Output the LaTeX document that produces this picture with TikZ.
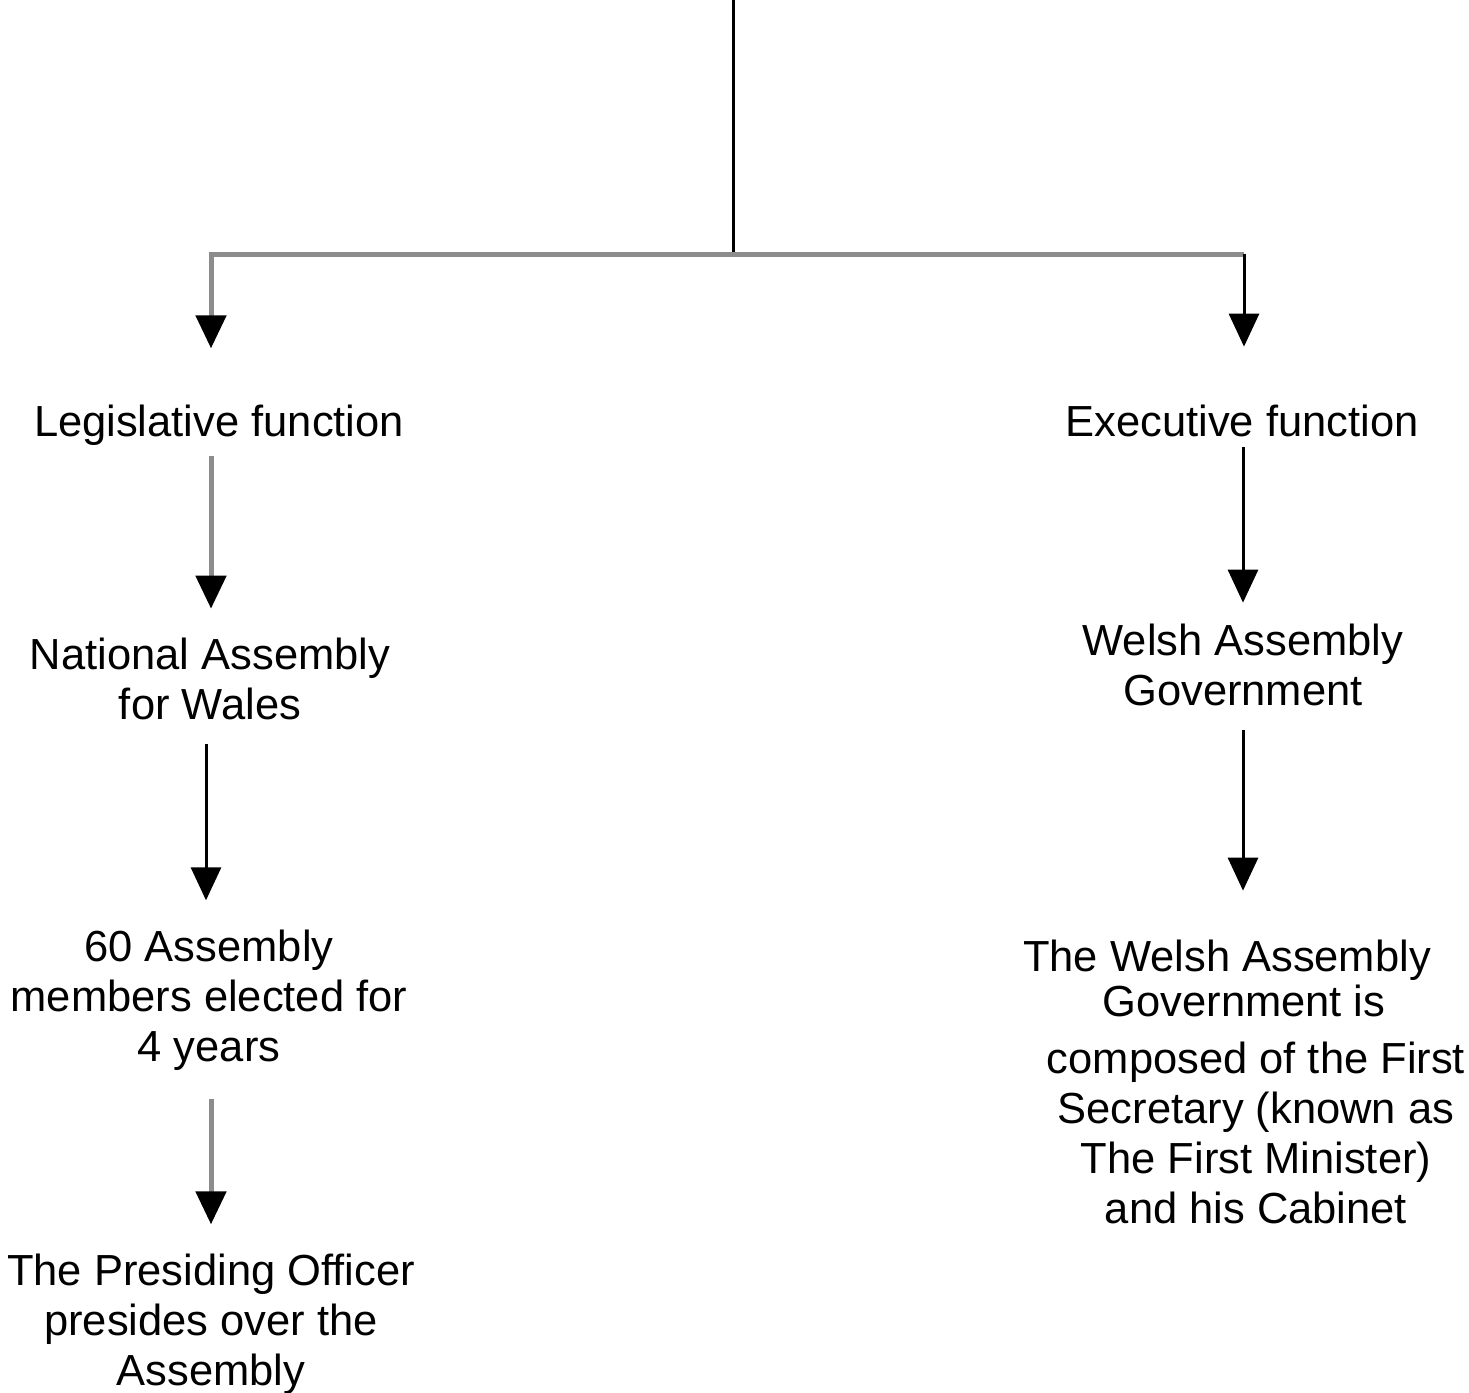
\documentclass[tikz,border=0pt]{standalone}
\usepackage{fontspec}
\setmainfont{Liberation Sans}
\usetikzlibrary{arrows.meta}
\begin{document}
\begin{tikzpicture}[x=0.5pt,y=-0.5pt,
  txt/.style={font=\fontsize{21.75pt}{25pt}\selectfont, align=center, inner sep=0pt},
  blk/.style={draw=black, line width=1.5pt},
  gry/.style={draw=black!45, line width=2.5pt},
  tip/.style={-{Triangle[length=16.5pt,width=15pt,color=black,fill=black]}}
]
\useasboundingbox (0,0) rectangle (1469,1393);
\coordinate (top) at (733,0);
\coordinate (junc) at (733,254);
\coordinate (barR) at (1244,254);
\coordinate (colL) at (211,0);
\coordinate (colM) at (206,0);
\coordinate (colR) at (1243,0);

\node[txt] (leg) at (219,425) {Legislative function};
\node[txt] (exec) at (1242,421) {Executive function};
\node[txt] (nat) at (210,679) {National Assembly\\for Wales};
\node[txt] (sixty) at (209,1000) {60 Assembly\\members elected for\\4 years};
\node[txt] (pres) at (211,1324) {The Presiding Officer\\presides over the\\Assembly};
\node[txt] (wag) at (1243,665) {Welsh Assembly\\Government};
\node[txt] (comp) at (1256,1082) {\hspace*{-29pt}The Welsh Assembly\\[-2.5pt]
  \hspace*{-12pt}Government is\\[3.5pt]
  composed of the First\\
  Secretary (known as\\
  The First Minister)\\
  and his Cabinet};

\draw[blk] (top) -- (junc);
\draw[gry] (junc) -- (barR);
\draw[gry,tip,shorten >=28pt] (junc) -| (leg.north -| colL);
\draw[blk,tip,shorten >=29pt] (barR) -- (exec.north -| barR);
\draw[gry,tip,shorten <=5pt,shorten >=14.5pt] (leg.south -| colL) -- (nat.north -| colL);
\draw[blk,tip,shorten <=12pt,shorten >=14.5pt] (nat.south -| colM) -- (sixty.north -| colM);
\draw[gry,tip,shorten <=14pt,shorten >=14.5pt] (sixty.south -| colL) -- (pres.north -| colL);
\draw[blk,tip,shorten <=5pt,shorten >=10.5pt] (exec.south -| colR) -- (wag.north -| colR);
\draw[blk,tip,shorten <=12pt,shorten >=24.5pt] (wag.south -| colR) -- (comp.north -| colR);
\end{tikzpicture}
\end{document}
